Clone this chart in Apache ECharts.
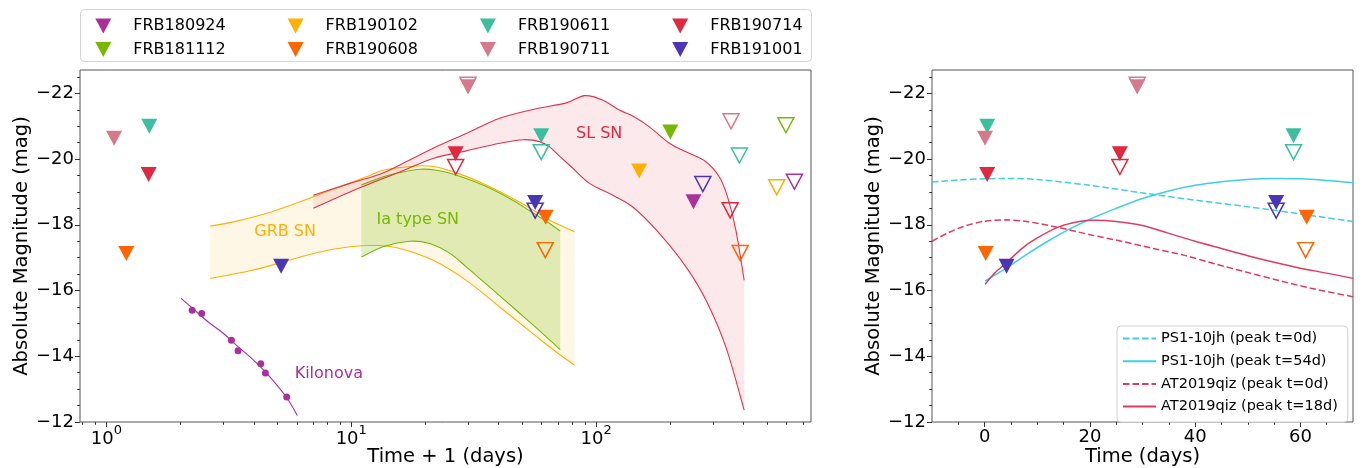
<!DOCTYPE html>
<html><head><meta charset="utf-8">
<script src="https://cdn.jsdelivr.net/npm/echarts@6/dist/echarts.min.js"></script>
<style>html,body{margin:0;padding:0;background:#fff}#c{width:1363px;height:468px}</style>
</head><body><div id="c"></div>
<script>
// ---------- data (left panel x = time + 1 in days, y = absolute magnitude) ----------
const frbNames = ['FRB180924','FRB181112','FRB190102','FRB190608','FRB190611','FRB190711','FRB190714','FRB191001'];
const frbColors = ['#a8329a','#76b900','#ffb000','#ff6600','#3dbf9f','#d57a8c','#e0283f','#4a35b5'];

const FRB180924_filled = [[250, -18.70]];
const FRB181112_filled = [[201, -20.82]];
const FRB190102_filled = [[150, -19.64]];
const FRB190608_filled = [[1.206, -17.13], [62.2, -18.23]];
const FRB190611_filled = [[1.497, -21.00], [59.7, -20.71]];
const FRB190711_filled = [[1.075, -20.63], [30.0, -22.20]];
const FRB190714_filled = [[1.488, -19.53], [26.7, -20.16]];
const FRB191001_filled = [[5.17, -16.74], [56.4, -18.68]];

const FRB180924_open = [[646, -19.31]];
const FRB181112_open = [[596, -21.03]];
const FRB190102_open = [[547, -19.14]];
const FRB190608_open = [[62.0, -17.23], [388, -17.14]];
const FRB190611_open = [[59.7, -20.21], [385, -20.11]];
const FRB190711_open = [[30.0, -22.26], [356, -21.15]];
const FRB190714_open = [[26.7, -19.76], [353, -18.44]];
const FRB191001_open = [[56.4, -18.43], [273, -19.24]];

const grbUpper = [[2.655,-17.96],[3.30,-18.09],[4.52,-18.35],[6.18,-18.70],[8.44,-19.08],[11.55,-19.46],[13.5,-19.66],[18.48,-19.79],[22.3,-19.76],[26.9,-19.58],[34.5,-19.26],[47.2,-18.75],[57.0,-18.39],[64.6,-18.14],[81.7,-17.79]];
const grbLower = [[2.655,-16.37],[3.86,-16.60],[5.28,-16.87],[7.22,-17.15],[9.88,-17.33],[12.7,-17.37],[15.8,-17.28],[21.6,-16.92],[29.5,-16.31],[40.4,-15.50],[55.2,-14.69],[68.7,-14.13],[81.7,-13.73]];
const iaUpper = [[11.0,-19.21],[13.5,-19.46],[15.8,-19.59],[19.06,-19.69],[22.3,-19.66],[27.7,-19.48],[34.5,-19.21],[44.4,-18.80],[53.5,-18.43],[64.6,-18.04],[71.4,-17.81]];
const iaLower = [[11.0,-17.02],[13.5,-17.33],[17.35,-17.50],[20.9,-17.43],[25.3,-17.13],[29.5,-16.72],[36.7,-16.11],[47.2,-15.40],[60.6,-14.69],[71.4,-14.20]];
const slUpper = [[7.0,-18.90],[9.88,-19.26],[13.09,-19.54],[15.8,-19.82],[21.6,-20.33],[29.5,-20.78],[40.4,-21.24],[55.2,-21.51],[75.5,-21.71],[89.7,-21.93],[106.4,-21.80],[124.5,-21.49],[141.2,-21.31],[165.2,-20.98],[199.3,-20.48],[233,-20.22],[281,-19.92],[318.5,-19.46],[344.4,-18.85],[372.5,-17.84],[402.8,-16.31]];
const slLower = [[7.0,-18.50],[9.88,-19.00],[15.8,-19.61],[21.6,-20.02],[29.5,-20.25],[40.4,-20.48],[50.3,-20.59],[58.8,-20.53],[64.6,-20.37],[70.9,-20.09],[80.4,-19.72],[94.0,-19.26],[113.4,-18.95],[141.2,-18.54],[181.3,-17.74],[233,-16.72],[281,-15.71],[339,-14.28],[402.8,-12.36]];
const kilonovaLine = [[2.02,-15.76],[2.24,-15.47],[2.6,-15.05],[3.0,-14.70],[3.4,-14.33],[3.9,-13.95],[4.4,-13.57],[5.0,-13.10],[5.5,-12.70],[6.02,-12.20]];
const kilonovaDots = [[2.24,-15.40],[2.45,-15.30],[3.24,-14.49],[3.45,-14.17],[4.27,-13.77],[4.46,-13.49],[5.45,-12.76]];

// right panel model curves (time in days, absolute magnitude)
const ps1Peak0 = [[-10,-19.30],[-5,-19.36],[0,-19.40],[4,-19.41],[10,-19.38],[20,-19.20],[30,-18.97],[40,-18.75],[50,-18.55],[60,-18.33],[70,-18.10]];
const ps1Peak54 = [[0.1,-16.29],[2,-16.48],[4,-16.67],[8,-17.10],[12,-17.50],[16,-17.86],[20,-18.17],[25,-18.50],[30,-18.80],[35,-19.03],[40,-19.20],[45,-19.31],[50,-19.38],[55,-19.41],[60,-19.40],[65,-19.35],[70,-19.28]];
const qizPeak0 = [[-10,-17.50],[-7,-17.75],[-4,-17.95],[0,-18.11],[4,-18.15],[8,-18.10],[14,-17.92],[20,-17.70],[26,-17.50],[32,-17.28],[38,-17.07],[44,-16.80],[50,-16.55],[56,-16.30],[62,-16.07],[70,-15.81]];
const qizPeak18 = [[0.1,-16.19],[2,-16.55],[4,-16.82],[7,-17.27],[10,-17.60],[14,-17.93],[18,-18.10],[21,-18.14],[25,-18.10],[30,-17.98],[35,-17.74],[40,-17.50],[45,-17.28],[50,-17.06],[55,-16.86],[60,-16.68],[65,-16.53],[70,-16.37]];

// ticks
const logMajorTicks = [0, 1, 2];
const magTicks = [-22, -20, -18, -16, -14, -12];
const timeTicks = [0, 20, 40, 60];
const timeMinorTicks = [-5, 5, 10, 15, 25, 30, 35, 45, 50, 55, 65];
const magMinorTicks = [-22.5,-21.5,-21,-20.5,-19.5,-19,-18.5,-17.5,-17,-16.5,-15.5,-15,-14.5,-13.5,-13,-12.5];

// annotation text anchors (time+1, mag)
const annotations = [
  {text:'GRB SN', at:[5.37,-17.79], color:'#ffb000'},
  {text:'Ia type SN', at:[18.7,-18.14], color:'#76b900'},
  {text:'SL SN', at:[103,-20.78], color:'#e0283f'},
  {text:'Kilonova', at:[8.1,-13.45], color:'#a8329a'}
];

// ---------- chart ----------
const L = Math.log10;
const font = 'DejaVu Sans';
const xMinL = L(0.78), xMaxL = L(755);
const yMin = -22.71, yMax = -12;
const logMinorTicks = [];
for (let n = -1; n <= 2; n++) for (let k = 2; k <= 9; k++) { const v = k * Math.pow(10, n); if (v >= 0.78 && v <= 755) logMinorTicks.push(L(v)); }
const tri = 'path://M0,0L16,0L8,15Z';
const minus = v => (v < 0 ? '\u2212' : '') + Math.abs(v);
const tickStyle = {color:'#333', width:1};

const filledSets = [FRB180924_filled,FRB181112_filled,FRB190102_filled,FRB190608_filled,FRB190611_filled,FRB190711_filled,FRB190714_filled,FRB191001_filled];
const openSets = [FRB180924_open,FRB181112_open,FRB190102_open,FRB190608_open,FRB190611_open,FRB190711_open,FRB190714_open,FRB191001_open];

const toLog = arr => arr.map(p => [L(p[0]), p[1]]);
const toRight = arr => arr.map(p => [p[0] - 1, p[1]]).filter(p => p[0] >= -10 && p[0] <= 70);

// smooth path (Catmull-Rom as cubic Bezier) through pixel points
function curve(P, move) {
  let d = move ? 'M' + P[0][0] + ',' + P[0][1] : '';
  for (let i = 0; i < P.length - 1; i++) {
    const p0 = P[i - 1] || P[i], p1 = P[i], p2 = P[i + 1], p3 = P[i + 2] || P[i + 1];
    const c1 = [p1[0] + (p2[0] - p0[0]) / 6, p1[1] + (p2[1] - p0[1]) / 6];
    const c2 = [p2[0] - (p3[0] - p1[0]) / 6, p2[1] - (p3[1] - p1[1]) / 6];
    d += 'C' + c1[0] + ',' + c1[1] + ',' + c2[0] + ',' + c2[1] + ',' + p2[0] + ',' + p2[1];
  }
  return d;
}
function band(upper, lower, fill, stroke) {
  const up = toLog(upper), lo = toLog(lower);
  return {type:'custom', xAxisIndex:0, yAxisIndex:0, z:1, silent:true, data:[up[0]],
    renderItem: (params, api) => {
      const U = up.map(p => api.coord(p)), W = lo.map(p => api.coord(p));
      const R = W.slice().reverse();
      const fillD = curve(U, true) + 'L' + R[0][0] + ',' + R[0][1] + curve(R, false) + 'Z';
      return {type:'group', children:[
        {type:'path', shape:{pathData: fillD}, style:{fill: fill, stroke: null}},
        {type:'path', shape:{pathData: curve(U, true)}, style:{fill: 'none', stroke: stroke, lineWidth: 1.1}},
        {type:'path', shape:{pathData: curve(W, true)}, style:{fill: 'none', stroke: stroke, lineWidth: 1.1}}
      ]};
    }};
}
function line(name, data, color, xi, yi, extra) {
  return Object.assign({type:'line', name, data, xAxisIndex:xi, yAxisIndex:yi, symbol:'none', silent:true, z:2, smooth:0.3,
    lineStyle:{color, width:1.1}, itemStyle:{color}}, extra || {});
}

const series = [
  band(grbUpper, grbLower, 'rgba(255,176,0,0.1)', '#ffb000'),
  band(iaUpper, iaLower, 'rgba(118,185,0,0.22)', '#76b900'),
  band(slUpper, slLower, 'rgba(224,40,63,0.1)', '#e3304a'),
  line('kn', toLog(kilonovaLine), '#a8329a', 0, 0),
  {type:'scatter', name:'knDots', data:toLog(kilonovaDots), xAxisIndex:0, yAxisIndex:0, symbol:'circle', symbolSize:7, itemStyle:{color:'#a8329a', opacity:1}, z:3, silent:true},
  {type:'scatter', name:'labels', xAxisIndex:0, yAxisIndex:0, symbolSize:0, silent:true, z:4, itemStyle:{opacity:1},
    data: annotations.map(a => ({value:[L(a.at[0]), a.at[1]], label:{show:true, position:'inside', formatter:a.text, color:a.color, opacity:1, fontSize:16, fontFamily:font}}))},
  line('PS1-10jh (peak t=0d)', ps1Peak0, '#3fd0e0', 2, 2, {lineStyle:{color:'#3fd0e0', width:1.5, type:[6.5,3]}}),
  line('PS1-10jh (peak t=54d)', ps1Peak54, '#3fd0e0', 2, 2, {lineStyle:{color:'#3fd0e0', width:1.5}}),
  line('AT2019qiz (peak t=0d)', qizPeak0, '#dc3d63', 2, 2, {lineStyle:{color:'#dc3d63', width:1.5, type:[6.5,3]}}),
  line('AT2019qiz (peak t=18d)', qizPeak18, '#dc3d63', 2, 2, {lineStyle:{color:'#dc3d63', width:1.5}})
];
frbNames.forEach((nm, i) => {
  const c = frbColors[i];
  const filledStyle = {color:c, opacity:1};
  const openStyle = {color:'rgba(0,0,0,0)', borderColor:c, borderWidth:1.5, opacity:1};
  const base = {type:'scatter', symbol:tri, symbolSize:[16,15], symbolKeepAspect:false, silent:true, z:5};
  series.push(Object.assign({}, base, {name:nm, data:toLog(filledSets[i]), xAxisIndex:0, yAxisIndex:0, itemStyle:filledStyle}));
  series.push(Object.assign({}, base, {name:nm + ' open', data:toLog(openSets[i]), xAxisIndex:0, yAxisIndex:0, itemStyle:openStyle}));
  series.push(Object.assign({}, base, {name:nm, data:toRight(filledSets[i]), xAxisIndex:2, yAxisIndex:2, itemStyle:filledStyle}));
  series.push(Object.assign({}, base, {name:nm + ' open', data:toRight(openSets[i]), xAxisIndex:2, yAxisIndex:2, itemStyle:openStyle}));
});

const legends = [0,1,2,3].map(i => ({
  orient:'vertical', left: 95.3 + i * 192.3, top: 18, padding: 0, itemWidth: 16, itemHeight: 15, itemGap: 7.5,
  icon: tri, selectedMode: false, symbolRotate: 0, itemStyle: {opacity: 1},
  textStyle: {fontSize: 16, color: '#000', fontFamily: font, padding: [0, 0, 0, 17]},
  data: [frbNames[2*i], frbNames[2*i+1]]
}));
legends.push({
  orient:'vertical', left: 1117, top: 326, padding: [5, 10, 8, 5], itemWidth: 33, itemHeight: 14, itemGap: 7.7,
  selectedMode: false, backgroundColor: '#fff', borderColor: '#d0d0d0', borderWidth: 1, borderRadius: 4,
  itemStyle: {opacity: 0},
  textStyle: {fontSize: 14.5, color: '#000', fontFamily: font},
  data: ['PS1-10jh (peak t=0d)', 'PS1-10jh (peak t=54d)', 'AT2019qiz (peak t=0d)', 'AT2019qiz (peak t=18d)']
});

const nameStyle = {fontSize: 19.5, color: '#000', fontFamily: font};
const noLine = {show: false, onZero: false};
function majorX(grid, min, max, ticks, label, name) {
  return {gridIndex: grid, type: 'value', position: 'bottom', min, max, axisLine: noLine, splitLine: {show: false},
    axisTick: {customValues: ticks, length: 5, lineStyle: tickStyle},
    axisLabel: Object.assign({customValues: ticks, color: '#000', fontSize: 18, fontFamily: font}, label),
    name, nameLocation: 'middle', nameGap: 25, nameMoveOverlap: false, nameTextStyle: nameStyle};
}
function minorAxis(grid, min, max, ticks, pos, extra) {
  return Object.assign({gridIndex: grid, type: 'value', position: pos, min, max, axisLine: noLine, splitLine: {show: false},
    axisTick: {customValues: ticks, length: 2.8, lineStyle: tickStyle}, axisLabel: {show: false}}, extra || {});
}
function majorY(grid) {
  return {gridIndex: grid, type: 'value', position: 'left', inverse: true, min: yMin, max: yMax, axisLine: noLine, splitLine: {show: false},
    axisTick: {customValues: magTicks, length: 5, lineStyle: tickStyle},
    axisLabel: {customValues: magTicks, formatter: minus, color: '#000', fontSize: 18, fontFamily: font, margin: 6},
    name: 'Absolute Magnitude (mag)', nameLocation: 'middle', nameGap: 48, nameMoveOverlap: false, nameTextStyle: nameStyle};
}

const option = {
  animation: false,
  textStyle: {fontFamily: font},
  graphic: [{type: 'rect', z: -10, silent: true, shape: {x: 80.5, y: 9.5, width: 731, height: 52, r: 4}, style: {fill: '#fff', stroke: '#d4d4d4', lineWidth: 1}}],
  legend: legends,
  grid: [
    {left: 80, top: 70, width: 731, height: 352, show: true, borderColor: '#555', borderWidth: 1, backgroundColor: 'transparent', outerBoundsMode: 'none', containLabel: false},
    {left: 932, top: 70, width: 421, height: 352, show: true, borderColor: '#555', borderWidth: 1, backgroundColor: 'transparent', outerBoundsMode: 'none', containLabel: false}
  ],
  xAxis: [
    majorX(0, xMinL, xMaxL, logMajorTicks, {margin: 2, formatter: v => '{b|10}{s|' + v + '}',
      rich: {b: {fontSize: 18, fontFamily: font, color: '#000', verticalAlign: 'bottom', padding: [6, 0, 0, 0]}, s: {fontSize: 13, fontFamily: font, color: '#000', verticalAlign: 'top'}}}, 'Time + 1 (days)'),
    minorAxis(0, xMinL, xMaxL, logMinorTicks, 'bottom'),
    majorX(1, -10, 70, timeTicks, {margin: 6}, 'Time (days)'),
    minorAxis(1, -10, 70, timeMinorTicks, 'bottom')
  ],
  yAxis: [
    majorY(0),
    minorAxis(0, yMin, yMax, magMinorTicks, 'left', {inverse: true}),
    majorY(1),
    minorAxis(1, yMin, yMax, magMinorTicks, 'left', {inverse: true})
  ],
  series
};
const chart = echarts.init(document.getElementById('c'));
chart.setOption(option);
</script></body></html>
